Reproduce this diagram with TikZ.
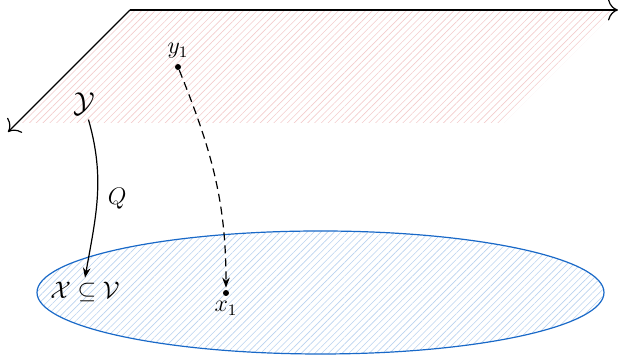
\documentclass[tikz,border=0pt]{standalone}
\usepackage{amsmath,amssymb}
\usepackage{xcolor}
\usepackage{tikz}
\usetikzlibrary{arrows.meta,patterns.meta,shapes.geometric}
\definecolor{planered}{RGB}{235,170,170}
\definecolor{diskblue}{RGB}{25,105,200}
\tikzset{
  axis/.style={-{To[length=5pt]}, semithick},
  maparrow/.style={-{Stealth[length=5pt]}, semithick},
  dasharrow/.style={-{Stealth[length=5pt]}, semithick, dash pattern=on 4pt off 2.5pt},
  planehatch/.style={pattern={Lines[angle=45,distance=2.4pt,line width=0.3pt]}, pattern color=planered!60},
  diskhatch/.style={pattern={Lines[angle=45,distance=2.4pt,line width=0.3pt]}, pattern color=diskblue!30},
  dot/.style={circle, fill, inner sep=0pt, minimum size=3pt},
  lbl/.style={font=\large, inner sep=2pt},
}

\begin{document}
\begin{tikzpicture}[x=0.5pt, y=-0.5pt]
  \useasboundingbox (0,0) rectangle (629,356);

  % Upper plane
  \fill[planehatch] (130,10) -- (617,10) -- (504,123) -- (17,123) -- cycle;
  \coordinate (origin) at (130,10);
  \coordinate (xend) at (618,10);
  \coordinate (zend) at (8,132);
  \draw[axis] (origin) -- (xend);
  \draw[axis] (origin) -- (zend);

  % Lower disk
  \node[ellipse, draw=diskblue, line width=0.6pt, diskhatch, minimum width=283.5pt, minimum height=61.5pt, inner sep=0pt] (disk) at (320.5,292.5) {};

  % Sets
  \node[lbl, font=\Large] (Y) at (84,104) {$\mathcal{Y}$};
  \node[lbl] (X) at (85,292) {$\mathcal{X} \subseteq \mathcal{V}$};
  \draw[maparrow] (Y) to[out=-74, in=80] node[right=3pt, lbl] (Q) {$Q$} (X.north);

  % Points
  \node[dot] (y1) at (178,67) {};
  \node[lbl, above=2pt] (y1lbl) at (y1) {$y_1$};
  \node[dot] (x1) at (226,293) {};
  \node[lbl, below=2pt] (x1lbl) at (x1) {$x_1$};
  \draw[dasharrow, shorten >=1pt] (y1) to[out=-68, in=90] (x1);

\end{tikzpicture}
\end{document}
